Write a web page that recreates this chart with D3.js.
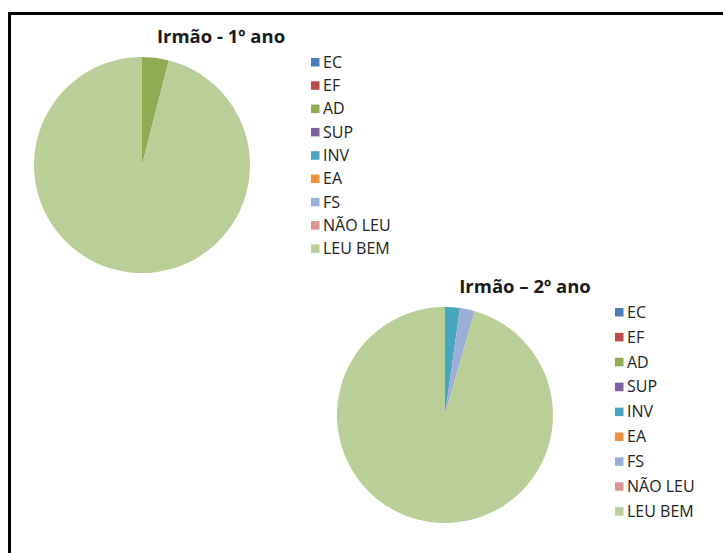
<!DOCTYPE html>
<html>
<head>
<meta charset="utf-8">
<script src="https://cdn.jsdelivr.net/npm/d3@7"></script>
<style>
  body { margin: 0; background: #fff; }
  svg text { font-family: "Open Sans", sans-serif; fill: #1a1a1a; }
</style>
</head>
<body>
<svg id="chart" width="723" height="553"></svg>
<script>
// categories shared by both pies
const categories = ['EC', 'EF', 'AD', 'SUP', 'INV', 'EA', 'FS', 'NÃO LEU', 'LEU BEM'];
const colors = ['#4a7ebb', '#be4b48', '#8fac52', '#7d60a0', '#46a5bf', '#f0903f', '#9bb0d8', '#d99694', '#bacf97'];

// values per chart (counts)
const ano1 = [0, 0, 1, 0, 0, 0, 0, 0, 24];
const ano2 = [0, 0, 0, 0, 1, 0, 1, 0, 43];

const titles = ['Irmão - 1º ano', 'Irmão – 2º ano'];

const svg = d3.select('#chart');

// outer frame (runs off the right and bottom edge)
svg.append('rect')
  .attr('x', 9.5).attr('y', 13.5)
  .attr('width', 800).attr('height', 600)
  .attr('fill', 'none')
  .attr('stroke', '#000')
  .attr('stroke-width', 3);

const color = d3.scaleOrdinal().domain(categories).range(colors);

const charts = [
  { values: ano1, title: titles[0], cx: 142, cy: 165, r: 108,
    titleX: 221, titleY: 43, legX: 311, legY: 62, legStep: 23.3 },
  { values: ano2, title: titles[1], cx: 445, cy: 415, r: 108,
    titleX: 525, titleY: 293, legX: 615, legY: 312, legStep: 24.9 }
];

const pie = d3.pie().sort(null);

charts.forEach(c => {
  const g = svg.append('g').attr('transform', `translate(${c.cx},${c.cy})`);
  const arc = d3.arc().innerRadius(0).outerRadius(c.r);
  const slices = pie(c.values).map((d, i) => ({ ...d, cat: categories[i] }));

  g.selectAll('path')
    .data(slices.filter(d => d.value > 0))
    .join('path')
      .attr('d', arc)
      .attr('fill', d => color(d.cat));

  svg.append('text')
    .attr('x', c.titleX).attr('y', c.titleY)
    .attr('text-anchor', 'middle')
    .style('font-size', '18.5px')
    .style('font-weight', 'bold')
    .text(c.title);

  const leg = svg.append('g');
  const y = d3.scalePoint().domain(categories)
    .range([c.legY, c.legY + c.legStep * (categories.length - 1)]);

  const rows = leg.selectAll('g')
    .data(categories)
    .join('g')
      .attr('transform', d => `translate(${c.legX},${y(d)})`);

  rows.append('rect')
    .attr('x', 0).attr('y', -4)
    .attr('width', 8.5).attr('height', 8.5)
    .attr('fill', d => color(d));

  rows.append('text')
    .attr('x', 12).attr('y', 0)
    .attr('dy', '0.36em')
    .style('font-size', '16px')
    .style('fill', '#222')
    .text(d => d);
});
</script>
</body>
</html>
